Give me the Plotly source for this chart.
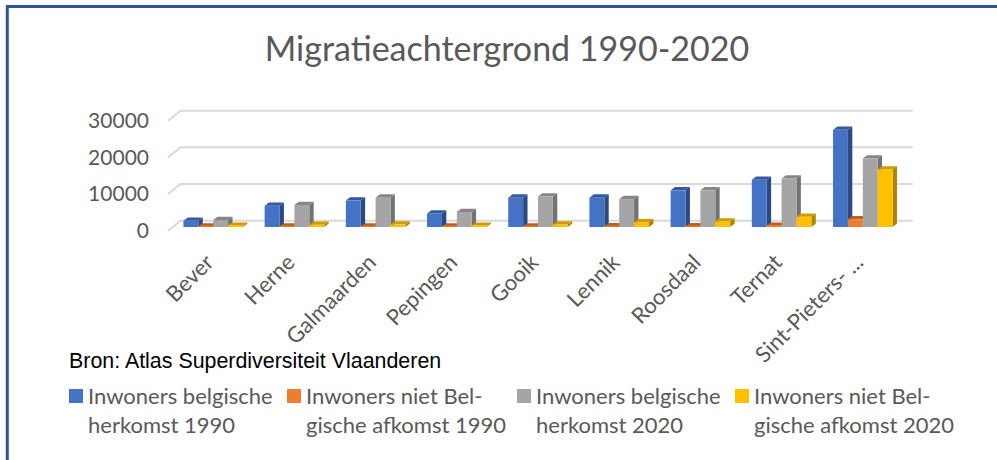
import plotly.graph_objects as go

categories = ["Bever", "Herne", "Galmaarden", "Pepingen", "Gooik", "Lennik", "Roosdaal", "Ternat", "Sint-Pieters- ..."]
belg_1990 = [1700, 5800, 7200, 3700, 8000, 8000, 10000, 12900, 26500]
niet_1990 = [100, 150, 150, 100, 150, 200, 200, 300, 2100]
belg_2020 = [1900, 6000, 8000, 4100, 8300, 7600, 10000, 13200, 18700]
niet_2020 = [350, 600, 650, 350, 700, 1300, 1500, 2800, 15700]
y_ticks = [0, 10000, 20000, 30000]
title_text = "Migratieachtergrond 1990-2020"
source_text = "Bron: Atlas Superdiversiteit Vlaanderen"
series_names = ["Inwoners belgische herkomst 1990", "Inwoners niet Belgische afkomst 1990",
                "Inwoners belgische herkomst 2020", "Inwoners niet Belgische afkomst 2020"]
legend_lines = [("Inwoners belgische", "herkomst 1990"), ("Inwoners niet Bel-", "gische afkomst 1990"),
                ("Inwoners belgische", "herkomst 2020"), ("Inwoners niet Bel-", "gische afkomst 2020")]
series_values = [belg_1990, niet_1990, belg_2020, niet_2020]
front_colors = ["#4472C4", "#ED7D31", "#A5A5A5", "#FFC000"]
top_colors = ["#335AA0", "#C0601F", "#868686", "#CF9C00"]
side_colors = ["#2B4A82", "#A05018", "#737373", "#AD8400"]

W, H = 997, 460
L, R, T, B = 100, 960, 100, 240          # plot box in pixels
cat_px, cat0_px = 81.2, 213.2
px_per_unit = 110 / 30000
base_px, wall_front_px = 227, 230.7

xrange_ = [(L - cat0_px) / cat_px, (R - cat0_px) / cat_px]
yr = [(base_px - B) / px_per_unit, (base_px - T) / px_per_unit]
yr2 = [(wall_front_px - B) / px_per_unit, (wall_front_px - T) / px_per_unit]

bar_w = 0.18325
dx, dy = 4.4 / cat_px, 3.3 / px_per_unit


def paper_x(px):
    return (px - L) / (R - L)


def paper_y(px):
    return (B - px) / (B - T)


fig = go.Figure()
shapes = []
for i, (name, vals) in enumerate(zip(series_names, series_values)):
    fig.add_trace(go.Bar(x=list(range(len(categories))), y=vals, name=name,
                         marker=dict(color=front_colors[i], line=dict(width=0))))
    for c, v in enumerate(vals):
        x0 = c - 2 * bar_w + i * bar_w
        x1 = x0 + bar_w
        shapes.append(dict(type="path", layer="between", xref="x", yref="y", line=dict(width=0), fillcolor=side_colors[i],
                           path=f"M{x1},0 L{x1},{v} L{x1+dx},{v+dy} L{x1+dx},{dy} Z"))
        shapes.append(dict(type="path", layer="between", xref="x", yref="y", line=dict(width=0), fillcolor=top_colors[i],
                           path=f"M{x0},{v} L{x1},{v} L{x1+dx},{v+dy} L{x0+dx},{v+dy} Z"))

# wall gridlines: front-left stub rising to the back wall
wall_rise = 10 / px_per_unit
grid = []
for t in y_ticks:
    grid.append(dict(type="path", layer="below", xref="paper", yref="y2", line=dict(color="#D9D9D9", width=2),
                     path=f"M{paper_x(168)},{t} L{paper_x(180.5)},{t+wall_rise} L{paper_x(912.7)},{t+wall_rise}"))

annotations = [dict(xref="paper", yref="paper", x=paper_x(68), y=paper_y(361), xanchor="left", yanchor="middle",
                    xshift=-1, text=source_text, showarrow=False,
                    font=dict(family="Liberation Sans", size=21.4, color="#000000"))]
legend_x = [69, 287, 517, 735]
chrome = []
for lx, lines, col in zip(legend_x, legend_lines, front_colors):
    chrome.append(dict(type="rect", xref="paper", yref="paper", line=dict(width=0), fillcolor=col, layer="above",
                       x0=paper_x(lx), x1=paper_x(lx + 14), y0=paper_y(389), y1=paper_y(403)))
    for ln, py in zip(lines, (395, 425)):
        annotations.append(dict(xref="paper", yref="paper", x=paper_x(lx + 17), y=paper_y(py),
                                xanchor="left", yanchor="middle", text=ln, showarrow=False,
                                font=dict(family="Lato", size=22, color="#595959")))

chrome.append(dict(type="path", xref="paper", yref="paper", layer="above", line=dict(color="#2F5597", width=3),
                   path=f"M{paper_x(7.3)},{paper_y(460)} L{paper_x(7.3)},{paper_y(6.5)} L{paper_x(997)},{paper_y(6.5)}"))

fig.update_layout(
    width=W, height=H, autosize=False,
    margin=dict(l=L, r=W - R, t=T, b=H - B, pad=0),
    paper_bgcolor="white", plot_bgcolor="white",
    barmode="group", bargap=0.267, bargroupgap=0, showlegend=False,
    title=dict(text=title_text, x=507 / W, xanchor="center", y=1 - 49 / H, yanchor="middle",
               font=dict(family="Lato", size=34, color="#595959")),
    xaxis=dict(range=xrange_, tickmode="array", tickvals=list(range(len(categories))), ticktext=categories,
               tickangle=-45, showgrid=False, zeroline=False, showline=False, ticks="",
               ticklabelstandoff=4, ticklabelshift=-6,
               tickfont=dict(family="Lato", size=22, color="#595959")),
    yaxis=dict(range=yr, visible=False, fixedrange=True),
    yaxis2=dict(range=yr2, overlaying="y", side="left", anchor="free", position=paper_x(149),
                tickmode="array", tickvals=y_ticks, ticktext=[str(t) for t in y_ticks], showgrid=False, zeroline=False,
                showline=False, ticks="", tickfont=dict(family="Lato", size=21, color="#595959")),
    shapes=grid + shapes + chrome,
    annotations=annotations,
)
# invisible trace keeps the label axis alive
fig.add_trace(go.Scatter(x=[0], y=[0], yaxis="y2", mode="markers", marker=dict(opacity=0), hoverinfo="skip", showlegend=False))
fig.write_html("out.html", config={"displayModeBar": False}, post_script="document.body.style.margin='0';")
